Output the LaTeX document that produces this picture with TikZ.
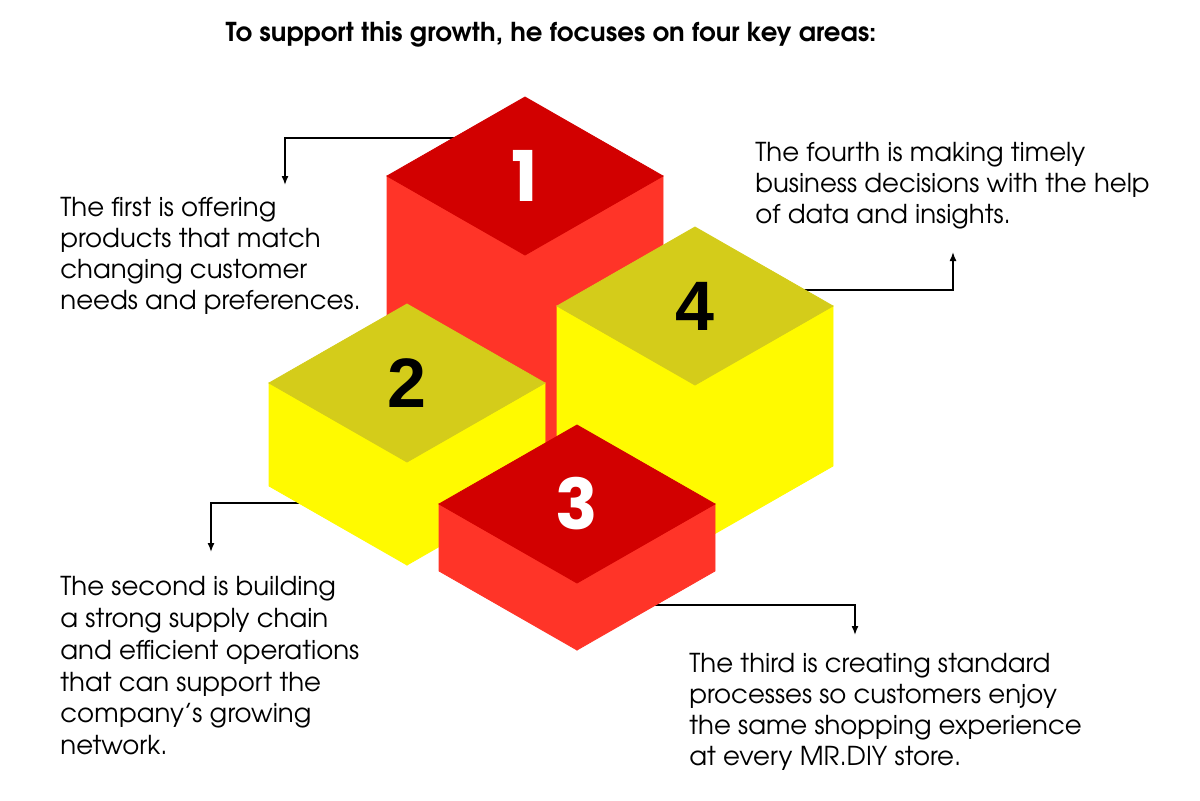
\documentclass[tikz,border=0pt]{standalone}
\usepackage{fontspec}
\setmainfont{TeX Gyre Adventor}
\newfontfamily\arialfont{Liberation Sans}
\newfontfamily\roundfont{Poppins}
\usetikzlibrary{arrows.meta}

\definecolor{topred}{RGB}{210,0,0}
\definecolor{sidered}{RGB}{255,52,40}
\definecolor{topyellow}{RGB}{212,204,26}
\definecolor{sideyellow}{RGB}{255,250,0}

% block seen from above: name, top corner x, y, height, top colour, side colour
\newcommand{\isoblock}[6]{%
  \begin{scope}[shift={(#2,#3)}]
    \filldraw[draw=#6, fill=#6] (-138,79) -- (0,158) -- (0,158+#4) -- (-138,79+#4) -- cycle;
    \filldraw[draw=#6, fill=#6] (0,158) -- (138,79) -- (138,79+#4) -- (0,158+#4) -- cycle;
    \filldraw[draw=#5, fill=#5] (0,0) -- (138,79) -- (0,158) -- (-138,79) -- cycle;
    \coordinate (#1) at (0,79);
  \end{scope}}

\begin{document}
\begin{tikzpicture}[x=0.5pt, y=-0.5pt,
    txt/.style={anchor=north west, inner sep=0pt, align=left,
      font=\fontsize{13}{15.5}\selectfont},
    lead/.style={line width=0.75pt, -{Latex[length=4.5pt, width=3.5pt]}},
    digit/.style={font=\roundfont\bfseries\fontsize{35}{35}\selectfont}]
  \useasboundingbox (0,0) rectangle (1200,800);

  \node[anchor=base, font=\bfseries\fontsize{13}{15}\selectfont] (title) at (551,41)
    {To support this growth, he focuses on four key areas:};

  % leader lines, their start is hidden under the blocks
  \coordinate (src1) at (480,138);
  \coordinate (tip1) at (285,185);
  \coordinate (src2) at (320,503);
  \coordinate (tip2) at (211,552);
  \coordinate (src3) at (640,605);
  \coordinate (tip3) at (855,635);
  \coordinate (src4) at (790,290);
  \coordinate (tip4) at (953,252);
  \draw[lead] (src1) -| (tip1);
  \draw[lead] (src2) -| (tip2);
  \draw[lead] (src3) -| (tip3);
  \draw[lead] (src4) -| (tip4);

  % blocks, back to front
  \isoblock{b1}{525}{97}{260}{topred}{sidered}
  \isoblock{b2}{407}{304}{103}{topyellow}{sideyellow}
  \isoblock{b4}{695}{227}{160}{topyellow}{sideyellow}
  \isoblock{b3}{577}{425}{67}{topred}{sidered}

  \node[digit, white] (n1) at (b1) {1};
  \node[digit, font=\arialfont\bfseries\fontsize{35}{35}\selectfont] (n2) at (b2) {2};
  \node[digit, white] (n3) at (b3) {3};
  \node[digit, font=\arialfont\bfseries\fontsize{35}{35}\selectfont] (n4) at (b4) {4};

  \node[txt] (t1) at (60,197) {The first is offering\\products that match\\changing customer\\needs and preferences.};
  \node[txt] (t4) at (755,142) {The fourth is making timely\\business decisions with the help\\of data and insights.};
  \node[txt, font=\fontsize{13}{15.9}\selectfont] (t2) at (60,576) {The second is building\\a strong supply chain\\and efficient operations\\that can support the\\company’s growing\\network.};
  \node[txt] (t3) at (689,653) {The third is creating standard\\processes so customers enjoy\\the same shopping experience\\at every MR.DIY store.};
\end{tikzpicture}
\end{document}
